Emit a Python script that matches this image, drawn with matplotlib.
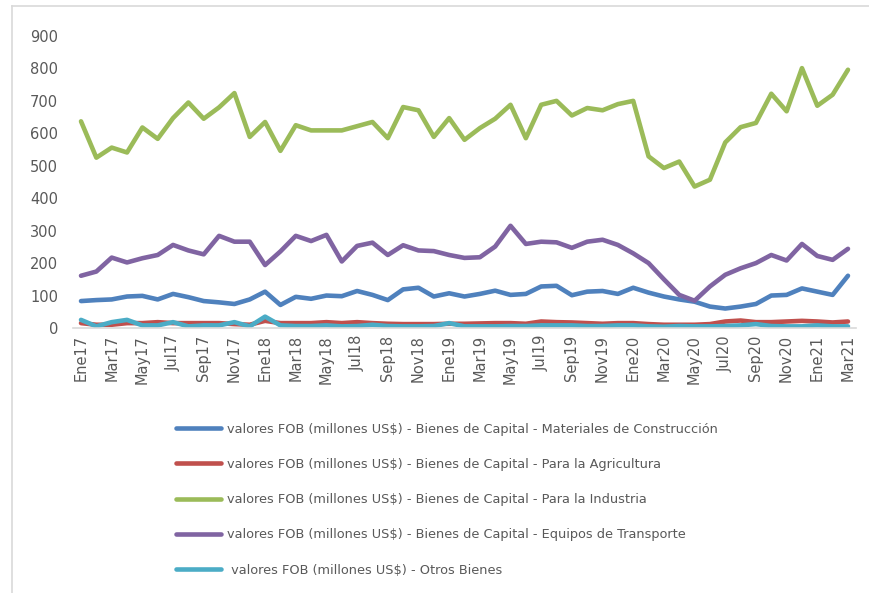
import matplotlib
matplotlib.use("Agg")
import matplotlib.pyplot as plt
from matplotlib.lines import Line2D

plt.rcParams['font.family'] = ['DejaVu Sans']

# months Ene17 .. Mar21
meses = ['Ene', 'Feb', 'Mar', 'Abr', 'May', 'Jun', 'Jul', 'Ago', 'Sep', 'Oct', 'Nov', 'Dic']
periodos = [m + str(a) for a in range(17, 22) for m in meses][:51]

construccion = [83, 86, 88, 97, 99, 88, 105, 95, 83, 79, 74, 88,
                112, 71, 96, 90, 100, 98, 114, 102, 86, 119, 124, 97,
                107, 97, 105, 115, 102, 105, 128, 130, 101, 112, 114, 105,
                124, 109, 97, 88, 81, 66, 60, 66, 74, 100, 102, 122,
                112, 102, 161]
agricultura = [15, 10, 10, 15, 15, 18, 15, 15, 15, 15, 12, 10,
               22, 15, 15, 15, 18, 15, 18, 15, 13, 12, 12, 12,
               13, 13, 14, 15, 15, 13, 20, 18, 17, 15, 13, 15,
               15, 12, 10, 10, 10, 12, 20, 23, 18, 18, 20, 22,
               20, 17, 20]
industria = [637, 525, 556, 541, 618, 583, 647, 695, 645, 680, 724, 589,
             635, 546, 625, 609, 609, 609, 622, 635, 585, 681, 671, 589,
             647, 580, 616, 645, 688, 585, 688, 700, 655, 678, 671, 690,
             700, 529, 493, 513, 436, 457, 572, 619, 632, 722, 668, 801,
             685, 719, 796]
transporte = [161, 174, 217, 202, 215, 225, 256, 239, 227, 284, 266, 266,
              194, 236, 284, 268, 287, 205, 253, 263, 225, 255, 239, 237,
              225, 216, 218, 251, 315, 259, 266, 264, 247, 266, 272, 256,
              230, 200, 150, 102, 84, 128, 164, 184, 200, 225, 208, 259,
              222, 210, 244]
otros = [25, 5, 18, 25, 8, 8, 18, 5, 8, 8, 18, 5,
         35, 8, 6, 6, 8, 5, 6, 10, 6, 5, 5, 6,
         15, 5, 5, 5, 6, 6, 8, 8, 8, 6, 6, 8,
         8, 5, 4, 6, 5, 5, 6, 8, 12, 6, 5, 5,
         8, 5, 5]

series = [
    (construccion, '#4F81BD', 'valores FOB (millones US$) - Bienes de Capital - Materiales de Construcción'),
    (agricultura, '#C0504D', 'valores FOB (millones US$) - Bienes de Capital - Para la Agricultura'),
    (industria, '#9BBB59', 'valores FOB (millones US$) - Bienes de Capital - Para la Industria'),
    (transporte, '#8064A2', 'valores FOB (millones US$) - Bienes de Capital - Equipos de Transporte'),
    (otros, '#4BACC6', ' valores FOB (millones US$) - Otros Bienes'),
]

fig = plt.figure(figsize=(8.7, 5.93), dpi=100)
ax = fig.add_axes([0.0843, 0.4469, 0.8992, 0.4924])

x = list(range(len(periodos)))
handles = []
for vals, col, lab in series:
    ax.plot(x, vals, color=col, lw=3.3, solid_joinstyle='round',
            solid_capstyle='round', label=lab)
    handles.append(Line2D([], [], color=col, lw=3.3, solid_capstyle='round'))

ax.set_xlim(-0.5, len(periodos) - 0.5)
ax.set_ylim(0, 900)
ax.set_yticks(range(0, 901, 100))
ax.set_xticks(x[::2])
ax.set_xticklabels(periodos[::2], rotation=90)
ax.tick_params(axis='both', length=0, labelsize=10.5, colors='#595959')
ax.tick_params(axis='y', pad=11)
ax.tick_params(axis='x', pad=5)
for s in ['top', 'right', 'left']:
    ax.spines[s].set_visible(False)
ax.spines['bottom'].set_color('#D9D9D9')
ax.spines['bottom'].set_linewidth(1.2)

fig.legend(handles, [s[2] for s in series], loc='upper left',
           bbox_to_anchor=(0.196, 0.296), frameon=False, fontsize=9.3,
           handlelength=3.5, handletextpad=0.45, labelspacing=1.72,
           labelcolor='#595959', borderaxespad=0)

# outer chart frame (left and top)
fig.add_artist(Line2D([0.014, 0.014], [0, 0.99], color='#D9D9D9', lw=1.2))
fig.add_artist(Line2D([0.014, 1.0], [0.99, 0.99], color='#D9D9D9', lw=1.2))

fig.savefig('out.png', dpi=100)
